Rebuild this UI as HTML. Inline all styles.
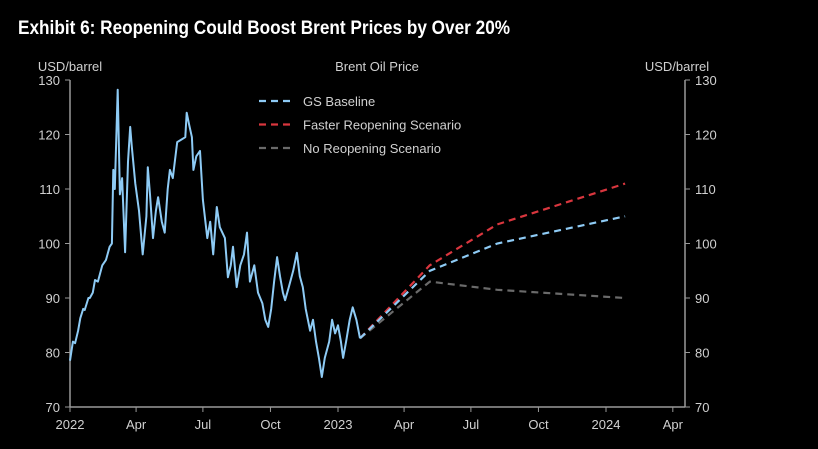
<!DOCTYPE html>
<html><head><meta charset="utf-8"><style>
html,body{margin:0;padding:0;background:#000;}
body{width:818px;height:449px;overflow:hidden;position:relative;font-family:"Liberation Sans",sans-serif;}
#title{position:absolute;left:18px;top:18px;color:#fff;font-family:"Liberation Sans",sans-serif;font-weight:bold;font-size:19px;transform:scaleX(0.905);transform-origin:0 0;white-space:nowrap;}
svg{position:absolute;left:0;top:0;}
text{font-family:"Liberation Sans",sans-serif;fill:#d0d0d0;font-size:13px;}
</style></head><body>
<div id="title">Exhibit 6: Reopening Could Boost Brent Prices by Over 20%</div>
<svg id="chart" width="818" height="449"></svg>
<script>
const histDays=[0,4,7,11,14,18,20,25,27,31,34,38,44,49,54,57,59,61,65,68,71,75,79,82,84,89,94,99,104,106,109,113,117,120,125,129,133,136,140,146,151,157,159,162,166,168,172,177,181,187,191,195,200,204,211,215,219,222,227,232,237,241,245,251,256,262,266,270,274,278,282,286,290,293,298,304,309,313,317,321,327,331,335,339,343,347,353,357,361,365,369,372,376,381,385,390,395];
const histVals=[78.5,82,81.7,84,86.3,88,87.8,90,90,91,93.3,93,96,97,99.4,100,113.5,110,128.2,109,112,98.4,115,121.4,118,111,106,98,105,114,109,101,106,108.5,104,102,110,113.5,112,118.6,119,119.5,124,122,119.5,113.5,116,117,108,101,104,98,106.7,103,101,93.8,96,99.4,92,96,98,102,93,96,91,89,86,84.7,88,93,97.5,94,91,89.6,92,95,98.3,94,92,88,84,86,82,79,75.5,79,82,86,83.5,85,82,79,82,86,88.3,86,82.6];
const fcDays=[395,490,582,756];
const baseline=[82.6,95,100,105];
const faster=[82.6,96,103.5,111];
const noReopen=[82.6,93,91.5,90];
const yTicks=[70,80,90,100,110,120,130];
const xTickLabels=["2022","Apr","Jul","Oct","2023","Apr","Jul","Oct","2024","Apr"];
const xTickDays=[0,90,181,273,365,455,546,638,730,821];

const svg=document.getElementById('chart');
const NS='http://www.w3.org/2000/svg';
const X0=70,X1=685,Y0=407,Y1=80;
const xs=d=>X0+d*(268/365);
const ys=v=>Y0-(v-70)*(Y0-Y1)/60;
function mk(tag,attrs){const e=document.createElementNS(NS,tag);for(const k in attrs)e.setAttribute(k,attrs[k]);svg.appendChild(e);return e;}
let a=mk('line',{x1:X0,y1:Y1,x2:X0,y2:Y0,stroke:'#999','stroke-width':1.5});


a=mk('line',{x1:X1,y1:Y1,x2:X1,y2:Y0,stroke:'#999','stroke-width':1.5});


a=mk('line',{x1:X0,y1:Y0,x2:X1,y2:Y0,stroke:'#999','stroke-width':1.5});


yTicks.forEach(v=>{
  const y=ys(v);
  let t=mk('line',{x1:X0-5,y1:y,x2:X0,y2:y,stroke:'#999'});
  
  
  t=mk('line',{x1:X1,y1:y,x2:X1+5,y2:y,stroke:'#999'});
  
  
  let l=mk('text',{x:X0-10,y:y+5,'text-anchor':'end'});l.textContent=v;
  
  
  l=mk('text',{x:X1+10,y:y+5,'text-anchor':'start'});l.textContent=v;
  
  
});
xTickDays.forEach((d,i)=>{
  const x=xs(d);
  let t=mk('line',{x1:x,y1:Y0,x2:x,y2:Y0+5,stroke:'#999'});
  
  
  let l=mk('text',{x:x,y:Y0+22,'text-anchor':'middle'});l.textContent=xTickLabels[i];
  
  
});
let tl=mk('text',{x:70,y:71,'text-anchor':'middle'});tl.textContent='USD/barrel';


tl=mk('text',{x:677,y:71,'text-anchor':'middle'});tl.textContent='USD/barrel';


tl=mk('text',{x:377,y:71,'text-anchor':'middle'});tl.textContent='Brent Oil Price';


function path(days,vals){return days.map((d,i)=>(i?'L':'M')+xs(d).toFixed(1)+' '+ys(vals[i]).toFixed(1)).join(' ');}
let p=mk('path',{d:path(fcDays,noReopen),fill:'none',stroke:'#6a6a6a','stroke-width':2.2,'stroke-dasharray':'7 5'});


p=mk('path',{d:path(fcDays,faster),fill:'none',stroke:'#d9363e','stroke-width':2.2,'stroke-dasharray':'7 5'});


p=mk('path',{d:path(fcDays,baseline),fill:'none',stroke:'#8ecbf5','stroke-width':2.2,'stroke-dasharray':'7 5'});


p=mk('path',{d:path(histDays,histVals),fill:'none',stroke:'#8ecbf5','stroke-width':2,'stroke-linejoin':'round'});


const legend=[['GS Baseline','#8ecbf5'],['Faster Reopening Scenario','#d9363e'],['No Reopening Scenario','#6a6a6a']];
legend.forEach((e,i)=>{
  const y=101+i*23.5;
  let ln=mk('line',{x1:259,y1:y,x2:292,y2:y,stroke:e[1],'stroke-width':2.2,'stroke-dasharray':'7 5'});
  
  
  let t=mk('text',{x:303,y:y+5});t.textContent=e[0];
  
  
});
</script>
</body></html>
